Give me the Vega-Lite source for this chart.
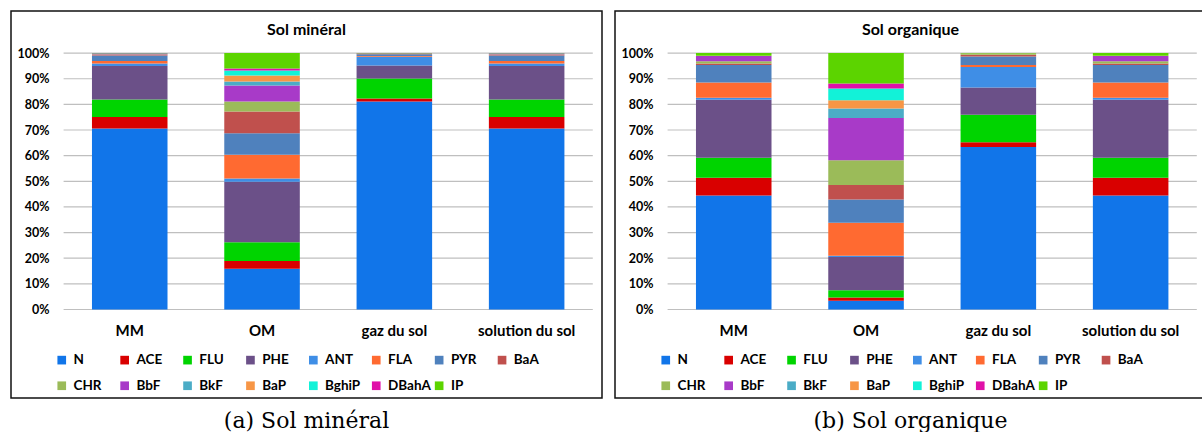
{
  "$schema": "https://vega.github.io/schema/vega-lite/v6.json",
  "background": "white",
  "padding": {"left": 10, "top": 10, "right": 0, "bottom": 0},
  "spacing": 11,
  "datasets": {
    "ticks": [{"t": 0}, {"t": 0.1}, {"t": 0.2}, {"t": 0.3}, {"t": 0.4}, {"t": 0.5}, {"t": 0.6}, {"t": 0.7}, {"t": 0.8}, {"t": 0.9}, {"t": 1}],
    "min": [
      {"sample": "MM", "pah": "N", "v": 70.7}, {"sample": "MM", "pah": "ACE", "v": 4.5}, {"sample": "MM", "pah": "FLU", "v": 6.9}, {"sample": "MM", "pah": "PHE", "v": 13.1}, {"sample": "MM", "pah": "ANT", "v": 0.9}, {"sample": "MM", "pah": "FLA", "v": 1.0}, {"sample": "MM", "pah": "PYR", "v": 2.2}, {"sample": "MM", "pah": "BaA", "v": 0.4}, {"sample": "MM", "pah": "CHR", "v": 0.1}, {"sample": "MM", "pah": "BbF", "v": 0.3}, {"sample": "MM", "pah": "BkF", "v": 0.03}, {"sample": "MM", "pah": "BaP", "v": 0.03}, {"sample": "MM", "pah": "BghiP", "v": 0.02}, {"sample": "MM", "pah": "DBahA", "v": 0.01}, {"sample": "MM", "pah": "IP", "v": 0.02},
      {"sample": "OM", "pah": "N", "v": 15.9}, {"sample": "OM", "pah": "ACE", "v": 3.0}, {"sample": "OM", "pah": "FLU", "v": 7.3}, {"sample": "OM", "pah": "PHE", "v": 23.6}, {"sample": "OM", "pah": "ANT", "v": 1.3}, {"sample": "OM", "pah": "FLA", "v": 9.3}, {"sample": "OM", "pah": "PYR", "v": 8.3}, {"sample": "OM", "pah": "BaA", "v": 8.5}, {"sample": "OM", "pah": "CHR", "v": 3.9}, {"sample": "OM", "pah": "BbF", "v": 6.3}, {"sample": "OM", "pah": "BkF", "v": 1.5}, {"sample": "OM", "pah": "BaP", "v": 2.4}, {"sample": "OM", "pah": "BghiP", "v": 1.9}, {"sample": "OM", "pah": "DBahA", "v": 0.8}, {"sample": "OM", "pah": "IP", "v": 6.0},
      {"sample": "gaz du sol", "pah": "N", "v": 81.2}, {"sample": "gaz du sol", "pah": "ACE", "v": 1.1}, {"sample": "gaz du sol", "pah": "FLU", "v": 7.8}, {"sample": "gaz du sol", "pah": "PHE", "v": 5.1}, {"sample": "gaz du sol", "pah": "ANT", "v": 3.4}, {"sample": "gaz du sol", "pah": "FLA", "v": 0.3}, {"sample": "gaz du sol", "pah": "PYR", "v": 0.7}, {"sample": "gaz du sol", "pah": "BaA", "v": 0.2}, {"sample": "gaz du sol", "pah": "CHR", "v": 0.1}, {"sample": "gaz du sol", "pah": "BbF", "v": 0.1}, {"sample": "gaz du sol", "pah": "BkF", "v": 0.01}, {"sample": "gaz du sol", "pah": "BaP", "v": 0.01}, {"sample": "gaz du sol", "pah": "BghiP", "v": 0.01}, {"sample": "gaz du sol", "pah": "DBahA", "v": 0.01}, {"sample": "gaz du sol", "pah": "IP", "v": 0.01},
      {"sample": "solution du sol", "pah": "N", "v": 70.7}, {"sample": "solution du sol", "pah": "ACE", "v": 4.5}, {"sample": "solution du sol", "pah": "FLU", "v": 6.9}, {"sample": "solution du sol", "pah": "PHE", "v": 13.1}, {"sample": "solution du sol", "pah": "ANT", "v": 0.9}, {"sample": "solution du sol", "pah": "FLA", "v": 1.0}, {"sample": "solution du sol", "pah": "PYR", "v": 2.2}, {"sample": "solution du sol", "pah": "BaA", "v": 0.4}, {"sample": "solution du sol", "pah": "CHR", "v": 0.1}, {"sample": "solution du sol", "pah": "BbF", "v": 0.3}, {"sample": "solution du sol", "pah": "BkF", "v": 0.03}, {"sample": "solution du sol", "pah": "BaP", "v": 0.03}, {"sample": "solution du sol", "pah": "BghiP", "v": 0.02}, {"sample": "solution du sol", "pah": "DBahA", "v": 0.01}, {"sample": "solution du sol", "pah": "IP", "v": 0.02}
    ],
    "org": [
      {"sample": "MM", "pah": "N", "v": 44.5}, {"sample": "MM", "pah": "ACE", "v": 6.9}, {"sample": "MM", "pah": "FLU", "v": 7.8}, {"sample": "MM", "pah": "PHE", "v": 22.6}, {"sample": "MM", "pah": "ANT", "v": 0.8}, {"sample": "MM", "pah": "FLA", "v": 6.0}, {"sample": "MM", "pah": "PYR", "v": 6.8}, {"sample": "MM", "pah": "BaA", "v": 0.6}, {"sample": "MM", "pah": "CHR", "v": 0.9}, {"sample": "MM", "pah": "BbF", "v": 2.0}, {"sample": "MM", "pah": "BkF", "v": 0.05}, {"sample": "MM", "pah": "BaP", "v": 0.05}, {"sample": "MM", "pah": "BghiP", "v": 0.02}, {"sample": "MM", "pah": "DBahA", "v": 0.02}, {"sample": "MM", "pah": "IP", "v": 1.0},
      {"sample": "OM", "pah": "N", "v": 3.4}, {"sample": "OM", "pah": "ACE", "v": 1.3}, {"sample": "OM", "pah": "FLU", "v": 2.8}, {"sample": "OM", "pah": "PHE", "v": 13.0}, {"sample": "OM", "pah": "ANT", "v": 0.5}, {"sample": "OM", "pah": "FLA", "v": 12.8}, {"sample": "OM", "pah": "PYR", "v": 9.1}, {"sample": "OM", "pah": "BaA", "v": 5.7}, {"sample": "OM", "pah": "CHR", "v": 9.6}, {"sample": "OM", "pah": "BbF", "v": 16.5}, {"sample": "OM", "pah": "BkF", "v": 3.7}, {"sample": "OM", "pah": "BaP", "v": 3.2}, {"sample": "OM", "pah": "BghiP", "v": 4.6}, {"sample": "OM", "pah": "DBahA", "v": 1.9}, {"sample": "OM", "pah": "IP", "v": 11.9},
      {"sample": "gaz du sol", "pah": "N", "v": 63.4}, {"sample": "gaz du sol", "pah": "ACE", "v": 1.9}, {"sample": "gaz du sol", "pah": "FLU", "v": 10.7}, {"sample": "gaz du sol", "pah": "PHE", "v": 10.6}, {"sample": "gaz du sol", "pah": "ANT", "v": 8.0}, {"sample": "gaz du sol", "pah": "FLA", "v": 0.8}, {"sample": "gaz du sol", "pah": "PYR", "v": 3.3}, {"sample": "gaz du sol", "pah": "BaA", "v": 0.7}, {"sample": "gaz du sol", "pah": "CHR", "v": 0.6}, {"sample": "gaz du sol", "pah": "BbF", "v": 0.02}, {"sample": "gaz du sol", "pah": "BkF", "v": 0.01}, {"sample": "gaz du sol", "pah": "BaP", "v": 0.01}, {"sample": "gaz du sol", "pah": "BghiP", "v": 0.01}, {"sample": "gaz du sol", "pah": "DBahA", "v": 0.01}, {"sample": "gaz du sol", "pah": "IP", "v": 0.01},
      {"sample": "solution du sol", "pah": "N", "v": 44.5}, {"sample": "solution du sol", "pah": "ACE", "v": 6.9}, {"sample": "solution du sol", "pah": "FLU", "v": 7.8}, {"sample": "solution du sol", "pah": "PHE", "v": 22.6}, {"sample": "solution du sol", "pah": "ANT", "v": 0.8}, {"sample": "solution du sol", "pah": "FLA", "v": 6.0}, {"sample": "solution du sol", "pah": "PYR", "v": 6.8}, {"sample": "solution du sol", "pah": "BaA", "v": 0.6}, {"sample": "solution du sol", "pah": "CHR", "v": 0.9}, {"sample": "solution du sol", "pah": "BbF", "v": 2.0}, {"sample": "solution du sol", "pah": "BkF", "v": 0.05}, {"sample": "solution du sol", "pah": "BaP", "v": 0.05}, {"sample": "solution du sol", "pah": "BghiP", "v": 0.02}, {"sample": "solution du sol", "pah": "DBahA", "v": 0.02}, {"sample": "solution du sol", "pah": "IP", "v": 1.0}
    ]
  },
  "hconcat": [
    {
      "title": {"text": "(a) Sol minéral", "orient": "bottom", "anchor": "middle", "font": "DejaVu Serif", "fontSize": 22, "fontWeight": "normal", "color": "black", "offset": 29, "baseline": "alphabetic"},
      "vconcat": [
        {
          "width": 591,
          "height": 387,
          "title": {"text": "Sol minéral", "orient": "top", "frame": "group", "anchor": "middle", "offset": -39.5, "baseline": "alphabetic", "font": "Lato", "fontSize": 16, "fontWeight": "bold", "color": "black"},
          "resolve": {"scale": {"x": "independent"}},
          "layer": [
            {
              "data": {"name": "ticks"},
              "mark": {"type": "rule", "color": "#BFBFBF", "strokeWidth": 1.2},
              "encoding": {
                "y": {"field": "t", "type": "quantitative", "scale": {"domain": [-0.3452, 1.1642], "nice": false, "zero": false},
                  "axis": {"title": null, "values": [0, 0.1, 0.2, 0.3, 0.4, 0.5, 0.6, 0.7, 0.8, 0.9, 1], "format": ".0%", "offset": -51.7, "domain": false, "ticks": false, "tickSize": 0, "grid": false, "labelFont": "Lato", "labelFontSize": 12.5, "labelFontWeight": "bold", "labelColor": "black", "labelPadding": 13.7}},
                "x": {"datum": 0.5, "type": "quantitative", "scale": {"domain": [0.1024, 4.5696], "nice": false, "zero": false}, "axis": null},
                "x2": {"datum": 4.5}
              }
            },
            {
              "data": {"name": "min"},
              "transform": [{"calculate": "indexof(['N','ACE','FLU','PHE','ANT','FLA','PYR','BaA','CHR','BbF','BkF','BaP','BghiP','DBahA','IP'], datum.pah)", "as": "k"}],
              "mark": {"type": "bar"},
              "encoding": {
                "x": {"field": "sample", "type": "nominal", "sort": ["MM", "OM", "gaz du sol", "solution du sol"], "scale": {"paddingInner": 0.429, "paddingOuter": 0.448, "align": 0.683},
                  "axis": {"title": null, "orient": "bottom", "offset": -88.5, "domain": false, "ticks": false, "grid": false, "labelAngle": 0, "labelFont": "Lato", "labelFontSize": 15, "labelFontWeight": "bold", "labelColor": "black", "labelPadding": 14}},
                "y": {"field": "v", "type": "quantitative", "stack": "normalize", "scale": {"domain": [-0.3452, 1.1642], "nice": false, "zero": false},
                  "axis": {"title": null, "values": [0, 0.1, 0.2, 0.3, 0.4, 0.5, 0.6, 0.7, 0.8, 0.9, 1], "format": ".0%", "offset": -51.7, "domain": false, "ticks": false, "tickSize": 0, "grid": false, "labelFont": "Lato", "labelFontSize": 12.5, "labelFontWeight": "bold", "labelColor": "black", "labelPadding": 13.7}},
                "order": {"field": "k", "type": "quantitative", "sort": "ascending"},
                "color": {"field": "pah", "type": "nominal",
                  "sort": ["N", "ACE", "FLU", "PHE", "ANT", "FLA", "PYR", "BaA", "CHR", "BbF", "BkF", "BaP", "BghiP", "DBahA", "IP"],
                  "scale": {"domain": ["N", "ACE", "FLU", "PHE", "ANT", "FLA", "PYR", "BaA", "CHR", "BbF", "BkF", "BaP", "BghiP", "DBahA", "IP"],
                    "range": ["#1175E9", "#D90000", "#00D400", "#6B5088", "#3F8EE6", "#FF6A31", "#4F81BD", "#C0504D", "#9BBB59", "#A83AC8", "#4BACC6", "#F79646", "#12F2D8", "#E010A8", "#5CD400"]},
                  "legend": {"orient": "none", "legendX": 44, "legendY": 342, "direction": "horizontal", "columns": 8, "gridAlign": "all", "title": null, "symbolType": "square", "symbolSize": 75, "symbolStrokeWidth": 0, "labelFont": "Lato", "labelFontSize": 13.5, "labelFontWeight": "bold", "labelColor": "black", "labelOffset": 5, "columnPadding": 0.9, "rowPadding": 11, "labelLimit": 200, "padding": 0}}
              }
            }
          ]
        }
      ]
    },
    {
      "title": {"text": "(b) Sol organique", "orient": "bottom", "anchor": "middle", "font": "DejaVu Serif", "fontSize": 22, "fontWeight": "normal", "color": "black", "offset": 29, "baseline": "alphabetic"},
      "vconcat": [
        {
          "width": 591,
          "height": 387,
          "title": {"text": "Sol organique", "orient": "top", "frame": "group", "anchor": "middle", "offset": -39.5, "baseline": "alphabetic", "font": "Lato", "fontSize": 16, "fontWeight": "bold", "color": "black"},
          "resolve": {"scale": {"x": "independent"}},
          "layer": [
            {
              "data": {"name": "ticks"},
              "mark": {"type": "rule", "color": "#BFBFBF", "strokeWidth": 1.2},
              "encoding": {
                "y": {"field": "t", "type": "quantitative", "scale": {"domain": [-0.3452, 1.1642], "nice": false, "zero": false},
                  "axis": {"title": null, "values": [0, 0.1, 0.2, 0.3, 0.4, 0.5, 0.6, 0.7, 0.8, 0.9, 1], "format": ".0%", "offset": -51.7, "domain": false, "ticks": false, "tickSize": 0, "grid": false, "labelFont": "Lato", "labelFontSize": 12.5, "labelFontWeight": "bold", "labelColor": "black", "labelPadding": 13.7}},
                "x": {"datum": 0.5, "type": "quantitative", "scale": {"domain": [0.1024, 4.5696], "nice": false, "zero": false}, "axis": null},
                "x2": {"datum": 4.5}
              }
            },
            {
              "data": {"name": "org"},
              "transform": [{"calculate": "indexof(['N','ACE','FLU','PHE','ANT','FLA','PYR','BaA','CHR','BbF','BkF','BaP','BghiP','DBahA','IP'], datum.pah)", "as": "k"}],
              "mark": {"type": "bar"},
              "encoding": {
                "x": {"field": "sample", "type": "nominal", "sort": ["MM", "OM", "gaz du sol", "solution du sol"], "scale": {"paddingInner": 0.429, "paddingOuter": 0.448, "align": 0.683},
                  "axis": {"title": null, "orient": "bottom", "offset": -88.5, "domain": false, "ticks": false, "grid": false, "labelAngle": 0, "labelFont": "Lato", "labelFontSize": 15, "labelFontWeight": "bold", "labelColor": "black", "labelPadding": 14}},
                "y": {"field": "v", "type": "quantitative", "stack": "normalize", "scale": {"domain": [-0.3452, 1.1642], "nice": false, "zero": false},
                  "axis": {"title": null, "values": [0, 0.1, 0.2, 0.3, 0.4, 0.5, 0.6, 0.7, 0.8, 0.9, 1], "format": ".0%", "offset": -51.7, "domain": false, "ticks": false, "tickSize": 0, "grid": false, "labelFont": "Lato", "labelFontSize": 12.5, "labelFontWeight": "bold", "labelColor": "black", "labelPadding": 13.7}},
                "order": {"field": "k", "type": "quantitative", "sort": "ascending"},
                "color": {"field": "pah", "type": "nominal",
                  "sort": ["N", "ACE", "FLU", "PHE", "ANT", "FLA", "PYR", "BaA", "CHR", "BbF", "BkF", "BaP", "BghiP", "DBahA", "IP"],
                  "scale": {"domain": ["N", "ACE", "FLU", "PHE", "ANT", "FLA", "PYR", "BaA", "CHR", "BbF", "BkF", "BaP", "BghiP", "DBahA", "IP"],
                    "range": ["#1175E9", "#D90000", "#00D400", "#6B5088", "#3F8EE6", "#FF6A31", "#4F81BD", "#C0504D", "#9BBB59", "#A83AC8", "#4BACC6", "#F79646", "#12F2D8", "#E010A8", "#5CD400"]},
                  "legend": {"orient": "none", "legendX": 44, "legendY": 342, "direction": "horizontal", "columns": 8, "gridAlign": "all", "title": null, "symbolType": "square", "symbolSize": 75, "symbolStrokeWidth": 0, "labelFont": "Lato", "labelFontSize": 13.5, "labelFontWeight": "bold", "labelColor": "black", "labelOffset": 5, "columnPadding": 0.9, "rowPadding": 11, "labelLimit": 200, "padding": 0}}
              }
            }
          ]
        }
      ]
    }
  ],
  "resolve": {"scale": {"color": "independent"}, "legend": {"color": "independent"}},
  "config": {
    "view": {"stroke": "#111111", "strokeWidth": 1.5},
    "font": "Lato"
  }
}
